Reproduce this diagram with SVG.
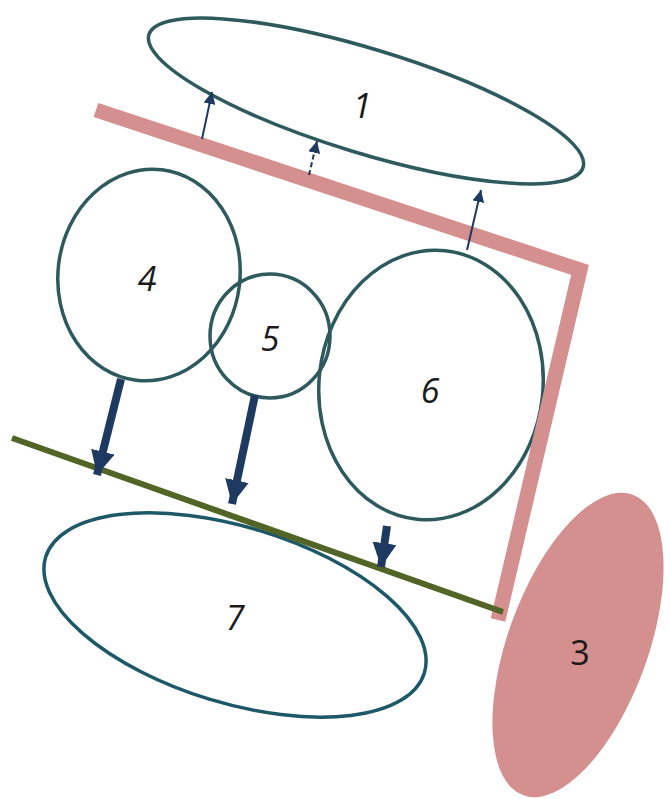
<svg xmlns="http://www.w3.org/2000/svg" width="670" height="799" viewBox="0 0 670 799">
<style>
.n{fill:none;stroke:#2E5A5E;stroke-width:3.5}
.lbl{font-family:"Open Sans","Liberation Sans",sans-serif;font-size:34px;font-style:italic;fill:#1a1a1a;text-anchor:middle;dominant-baseline:central}
.bar{stroke:#D48F8F;stroke-width:15;fill:none}
.thin{stroke:#1F3A60;stroke-width:2;fill:none}
.thick{stroke:#1F3A60;stroke-width:8;fill:none}
</style>
<defs>
<marker id="ah" viewBox="0 0 10 10" refX="10" refY="5" markerWidth="6" markerHeight="7" markerUnits="userSpaceOnUse" orient="auto">
<path d="M0,0 L10,5 L0,10 z" fill="#1F3A60"/>
</marker>
<marker id="ahs" viewBox="0 0 10 10" refX="10" refY="5" markerWidth="12" markerHeight="12" orient="auto" markerUnits="userSpaceOnUse">
<path d="M0,0 L10,5 L0,10 z" fill="#1F3A60"/>
</marker>
<marker id="ahb" viewBox="0 0 10 10" refX="10" refY="5" markerWidth="24" markerHeight="24" orient="auto" markerUnits="userSpaceOnUse">
<path d="M0,0 L10,5 L0,10 z" fill="#1F3A60"/>
</marker>
</defs>
<g id="node1">
<ellipse class="n" cx="366" cy="101" rx="227" ry="52" transform="rotate(17 366 101)"/>
<text class="lbl" x="362" y="105">1</text>
</g>
<g id="node4">
<ellipse class="n" cx="149" cy="275" rx="91" ry="106" transform="rotate(7 149 275)"/>
<text class="lbl" x="147" y="278">4</text>
</g>
<g id="node5">
<ellipse class="n" cx="270" cy="336" rx="60" ry="62"/>
<text class="lbl" x="270" y="338">5</text>
</g>
<g id="node6">
<ellipse class="n" cx="431" cy="385" rx="112" ry="135" transform="rotate(6 431 385)"/>
<text class="lbl" x="430" y="390">6</text>
</g>
<g id="node7">
<ellipse class="n" cx="235" cy="615" rx="198" ry="88" transform="rotate(17 235 615)" style="stroke:#1D5868"/>
<text class="lbl" x="235" y="617">7</text>
</g>
<g id="node3">
<ellipse cx="578" cy="645" rx="70" ry="160" transform="rotate(20 578 645)" fill="#D48F8F"/>
<text class="lbl" x="580" y="652" style="font-style:normal">3</text>
</g>
<g id="connectors">
<polyline class="bar" points="96,110 580,270 498,620"/>
<line x1="12" y1="438" x2="503" y2="612" stroke="#536526" stroke-width="6"/>
<line class="thin" x1="202" y1="139" x2="212" y2="92" marker-end="url(#ahs)"/>
<line class="thin" x1="309" y1="175" x2="317" y2="141" stroke-dasharray="5,3" marker-end="url(#ahs)"/>
<line class="thin" x1="467" y1="250" x2="481" y2="190" marker-end="url(#ahs)"/>
<line class="thick" x1="121" y1="379" x2="97" y2="475" marker-end="url(#ahb)"/>
<line class="thick" x1="255" y1="395" x2="232" y2="504" marker-end="url(#ahb)"/>
<line class="thick" x1="387" y1="526" x2="381" y2="567" marker-end="url(#ahb)"/>
</g>
</svg>
